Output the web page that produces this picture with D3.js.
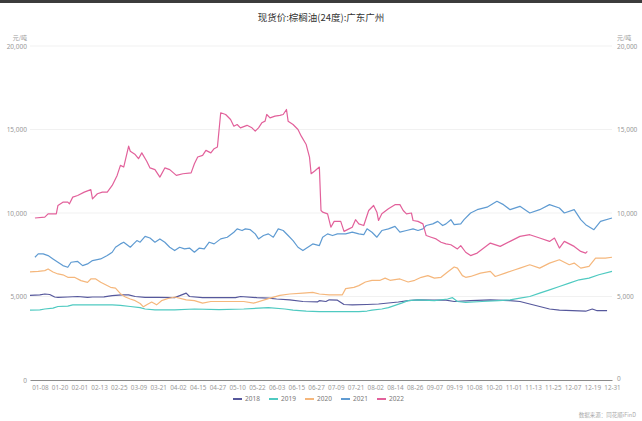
<!DOCTYPE html>
<html><head><meta charset="utf-8">
<script src="https://cdn.jsdelivr.net/npm/d3@7/dist/d3.min.js"></script>
<style>body{margin:0;background:#fff}svg{display:block;font-family:"Noto Sans CJK SC","Noto Sans",sans-serif}</style>
</head><body><svg id="c" width="642" height="421"></svg>
<script>
const title = "现货价:棕榈油(24度):广东广州";
const unit = "元/吨";
const source = "数据来源：同花顺iFinD";
const tickLabels = ["01-08","01-20","02-01","02-13","02-25","03-09","03-21","04-02","04-15","04-27","05-10","05-22","06-03","06-15","06-27","07-09","07-21","08-02","08-14","08-26","09-07","09-19","10-08","10-20","11-01","11-13","11-25","12-07","12-19","12-31"];
const tickIndex = [6,18,30,42,54,66,78,90,102,114,126,138,150,162,174,186,198,210,222,234,246,258,270,282,294,306,318,330,342,354];
const yTicks = [0,5000,10000,15000,20000];
const seriesNames = ["2018","2019","2020","2021","2022"];
const seriesColors = ["#56589c","#4fcac1","#f5b77c","#5f9bd2","#e2619b"];
// [category index, value]
const s2018 = [[0,5070],[6,5100],[9,5150],[12,5120],[15,4970],[17,4950],[23,4970],[29,5000],[35,4950],[38,4970],[45,4980],[50,5050],[56,5100],[60,5100],[64,5000],[70,4950],[78,4950],[88,4930],[95,5200],[97,5000],[105,4930],[125,4930],[128,5000],[138,4930],[145,4900],[150,4850],[158,4800],[166,4700],[175,4680],[176,4750],[180,4700],[182,4800],[187,4780],[191,4520],[196,4500],[205,4520],[212,4550],[224,4670],[230,4750],[236,4800],[245,4780],[253,4780],[258,4700],[268,4750],[280,4800],[292,4750],[298,4700],[304,4550],[310,4400],[316,4250],[322,4180],[330,4150],[338,4120],[342,4250],[345,4150],[351,4150]];
const s2019 = [[0,4180],[6,4200],[9,4250],[14,4300],[17,4400],[23,4420],[26,4500],[40,4500],[50,4500],[55,4470],[61,4400],[67,4330],[70,4250],[76,4200],[88,4200],[100,4250],[115,4220],[130,4250],[145,4330],[155,4250],[160,4180],[168,4120],[176,4100],[200,4100],[205,4130],[208,4180],[214,4250],[218,4330],[222,4470],[226,4600],[230,4750],[236,4800],[246,4750],[254,4850],[257,4930],[260,4700],[265,4650],[275,4700],[285,4750],[292,4800],[298,4900],[304,5000],[310,5200],[316,5400],[322,5600],[328,5800],[334,6000],[340,6100],[346,6300],[354,6500]];
const s2020 = [[0,6470],[5,6500],[9,6550],[11,6650],[14,6470],[17,6350],[20,6300],[23,6150],[27,6150],[31,5950],[35,5850],[37,6050],[40,6050],[43,5850],[46,5700],[49,5550],[52,5500],[55,5170],[58,4970],[61,4850],[64,4750],[67,4580],[69,4380],[71,4500],[74,4670],[77,4500],[80,4750],[84,4880],[88,4970],[95,4800],[100,4750],[105,4600],[110,4700],[120,4700],[130,4700],[136,4600],[146,4900],[152,5070],[158,5150],[166,5200],[172,5250],[176,5150],[182,5100],[190,5100],[192,5470],[197,5550],[200,5650],[204,5870],[208,5970],[213,5970],[216,6100],[219,5970],[225,6050],[230,5870],[234,5970],[238,6150],[242,6250],[246,6100],[250,6150],[254,6470],[258,6770],[260,6700],[263,6250],[265,6150],[268,6200],[274,6400],[280,6500],[283,6200],[289,6400],[295,6600],[298,6700],[304,6900],[310,6700],[316,7000],[322,7200],[328,6900],[331,7000],[335,6700],[340,6800],[344,7300],[350,7300],[354,7350]];
const s2021 = [[3,7350],[5,7550],[8,7550],[11,7450],[14,7250],[17,7050],[20,6850],[23,6750],[25,7050],[29,7100],[32,6850],[35,6950],[38,7150],[43,7250],[47,7450],[50,7650],[52,7950],[55,8150],[57,8250],[59,8100],[61,7950],[63,8150],[65,8350],[67,8250],[70,8600],[73,8500],[76,8250],[79,8450],[82,8250],[85,7950],[88,7750],[91,7950],[94,7850],[97,7900],[100,7650],[103,7900],[106,7850],[109,8250],[112,8150],[116,8450],[120,8550],[124,8850],[126,9050],[129,8950],[131,9050],[134,9000],[137,8750],[139,8450],[142,8650],[145,8750],[148,8550],[151,9050],[154,8950],[157,8650],[160,8350],[163,7950],[166,7750],[169,7950],[172,8150],[176,8050],[178,8550],[181,8750],[184,8650],[187,8750],[192,8750],[196,8850],[200,8750],[203,8700],[205,9050],[208,8850],[211,8550],[214,8950],[218,9050],[222,9200],[225,8850],[229,8950],[233,9050],[236,8950],[239,9050],[241,9250],[245,9350],[248,9500],[251,9250],[253,9350],[256,9600],[258,9300],[262,9350],[264,9600],[268,10000],[272,10200],[278,10350],[284,10700],[288,10500],[292,10200],[298,10400],[304,10000],[310,10200],[316,10500],[322,10300],[325,10000],[331,10200],[335,9600],[338,9300],[343,9000],[347,9500],[354,9700]];
const s2022 = [[3,9700],[9,9750],[11,9950],[16,9950],[17,10450],[20,10650],[23,10650],[24,10550],[26,10950],[29,11050],[33,11250],[37,11400],[38,10850],[41,11150],[44,11250],[47,11250],[50,11650],[53,12250],[55,12850],[57,12750],[60,14000],[61,13700],[64,13500],[66,13250],[68,13600],[71,13100],[73,12700],[76,12600],[79,12150],[82,12700],[85,12600],[89,12250],[93,12350],[98,12400],[100,12950],[102,13350],[105,13450],[107,13750],[110,13600],[112,13850],[114,13950],[116,16000],[119,15900],[122,15600],[124,15200],[126,15300],[128,15100],[132,15250],[135,15100],[137,14900],[139,15100],[141,15400],[143,15500],[144,15900],[146,15700],[149,15800],[152,15850],[154,15900],[156,16200],[157,15500],[160,15300],[163,15000],[165,14600],[168,14100],[170,13350],[171,12350],[173,12500],[176,12750],[177,10150],[178,10050],[181,9950],[183,9150],[185,9500],[189,9500],[191,8900],[194,9050],[196,9150],[198,9600],[200,9350],[203,9250],[206,10150],[209,10450],[211,10050],[212,9550],[214,9950],[218,10250],[222,10500],[225,10500],[227,10150],[229,9950],[232,10000],[233,9550],[236,9500],[239,9350],[241,8650],[244,8550],[247,8450],[250,8250],[253,8150],[256,8100],[260,7850],[262,8050],[265,7650],[268,7450],[272,7600],[280,8200],[286,8000],[292,8300],[298,8600],[304,8700],[310,8500],[316,8300],[319,8500],[322,7900],[325,8300],[331,8000],[335,7700],[338,7600],[339,7700]];
const allSeries = [s2018,s2019,s2020,s2021,s2022];

const svg = d3.select("#c");
svg.append("rect").attr("x",0).attr("y",0).attr("width",642).attr("height",3).attr("fill","#3c3c3c");
const x = d3.scaleLinear().domain([0,354]).range([30,612]);
const y = d3.scaleLinear().domain([0,20000]).range([380,46]);
const fmt = d3.format(",");

svg.append("text").attr("x",321).attr("y",21).attr("text-anchor","middle").attr("font-size",9.5).attr("fill","#333").text(title);

// grid
svg.append("g").selectAll("line").data(yTicks.filter(d=>d>0)).join("line")
  .attr("x1",30).attr("x2",612).attr("y1",d=>y(d)).attr("y2",d=>y(d))
  .attr("stroke","#f1f1f1").attr("stroke-width",1);

// left axis
const yl = svg.append("g").attr("transform","translate(27,0)").call(d3.axisLeft(y).tickValues(yTicks).tickFormat(fmt).tickSize(0).tickPadding(0));
yl.select(".domain").remove();
yl.selectAll("text").attr("font-size",6.5).attr("fill","#999").attr("font-family","Noto Sans, sans-serif");
const yr = svg.append("g").attr("transform","translate(617,0)").call(d3.axisRight(y).tickValues(yTicks).tickFormat(fmt).tickSize(0).tickPadding(0));
yr.select(".domain").remove();
yr.selectAll("text").attr("font-size",6.5).attr("fill","#999").attr("font-family","Noto Sans, sans-serif").attr("dy",d=>d===0?"0.1em":"0.32em");
svg.append("text").attr("x",27).attr("y",40).attr("text-anchor","end").attr("font-size",6).attr("fill","#999").text(unit);
svg.append("text").attr("x",617).attr("y",40).attr("text-anchor","start").attr("font-size",6).attr("fill","#999").text(unit);

// x axis
const xa = svg.append("g").attr("transform","translate(0,380)").call(d3.axisBottom(x).tickValues(tickIndex).tickFormat((d,i)=>tickLabels[i]).tickSize(0).tickPadding(6));
xa.select(".domain").attr("stroke","#8a8a8a").attr("stroke-width",1);
xa.selectAll("text").attr("font-size",6.3).attr("fill","#999").attr("font-family","Noto Sans, sans-serif");

// lines
const line = d3.line().x(d=>x(d[0])).y(d=>y(d[1]));
svg.append("g").selectAll("path").data(allSeries).join("path")
  .attr("d",line).attr("fill","none")
  .attr("stroke",(d,i)=>seriesColors[i]).attr("stroke-width",1.2).attr("stroke-linejoin","round");

// legend
const lg = svg.append("g").selectAll("g").data(seriesNames).join("g")
  .attr("transform",(d,i)=>`translate(${233+i*36},399)`);
lg.append("line").attr("x1",0).attr("x2",9).attr("y1",0).attr("y2",0).attr("stroke",(d,i)=>seriesColors[i]).attr("stroke-width",2);
lg.append("text").attr("x",12).attr("y",2.3).attr("font-size",6.5).attr("fill","#777").attr("font-family","Noto Sans, sans-serif").text(d=>d);

svg.append("text").attr("x",636).attr("y",417).attr("text-anchor","end").attr("font-size",5.5).attr("fill","#aaa").text(source);
</script></body></html>
